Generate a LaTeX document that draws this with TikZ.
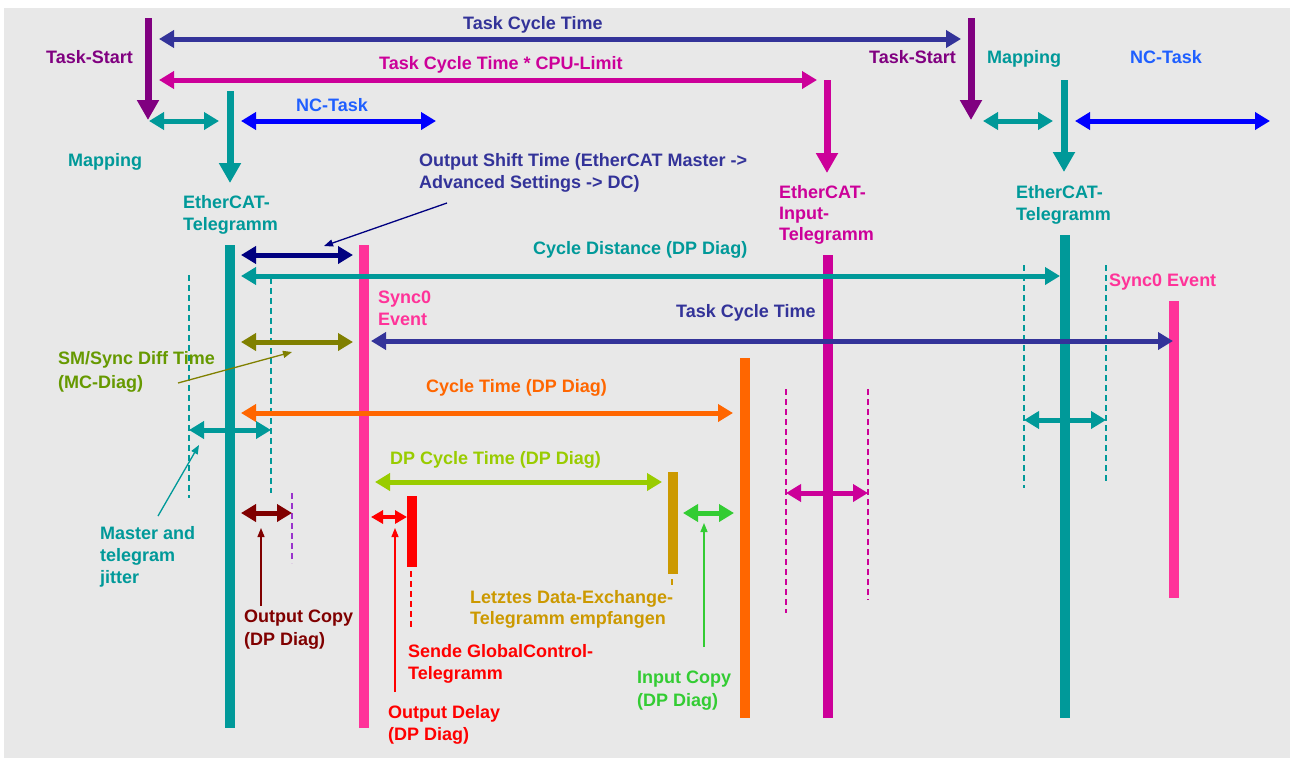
\documentclass[tikz,border=0pt]{standalone}
\usepackage{fontspec}
\setmainfont{Liberation Sans}
\usetikzlibrary{arrows.meta}
\definecolor{bgc}{HTML}{E8E8E8}
\definecolor{cpurple}{HTML}{800080}
\definecolor{cdblue}{HTML}{333399}
\definecolor{cmag}{HTML}{CC0099}
\definecolor{cteal}{HTML}{009999}
\definecolor{cblue}{HTML}{0000FF}
\definecolor{cncl}{HTML}{1F5FFF}
\definecolor{cpink}{HTML}{FF3399}
\definecolor{cnavy}{HTML}{000080}
\definecolor{colive}{HTML}{808000}
\definecolor{colivel}{HTML}{669900}
\definecolor{corange}{HTML}{FF6600}
\definecolor{cygreen}{HTML}{99CC00}
\definecolor{cgold}{HTML}{CC9900}
\definecolor{cdred}{HTML}{800000}
\definecolor{cred}{HTML}{FF0000}
\definecolor{cgreen}{HTML}{33CC33}
\definecolor{cviolet}{HTML}{9933CC}
\tikzset{
  hv/.tip={Triangle[length=20pt,width=21pt]},
  hh/.tip={Triangle[length=15pt,width=17pt]},
  hs/.tip={Triangle[length=12pt,width=13pt]},
  ht/.tip={Triangle[length=9pt,width=7pt]},
  varr/.style={draw=#1, line width=7pt, -hv},
  harr/.style={draw=#1, line width=5pt, hh-hh},
  sarr/.style={draw=#1, line width=4pt, hs-hs},
  tarr/.style={draw=#1, line width=1.3pt, -ht},
  dsh/.style={draw=#1, line width=1.5pt, dash pattern=on 6pt off 4pt},
  bar/.style={fill=#1, draw=none, minimum width=10pt, inner sep=0pt, anchor=north},
  lbl/.style={text=#1, inner sep=0pt, anchor=north west, align=left},
}
\begin{document}
\begin{tikzpicture}[x=1pt,y=-1pt,font=\fontsize{18}{22}\selectfont\bfseries]
\useasboundingbox (0,0) rectangle (1290,758);
\fill[white] (0,0) rectangle (1290,758);
\fill[bgc] (4,8) rectangle (1290,758);

% ---------- bars ----------
\node[bar=cteal, minimum height=483pt] (tb1) at (230,245) {};
\node[bar=cpink, minimum height=483pt] (pb1) at (364,245) {};
\node[bar=cmag, minimum height=463pt] (mb) at (828,255) {};
\node[bar=corange, minimum height=360pt] (ob) at (745,358) {};
\node[bar=cteal, minimum height=483pt] (tb2) at (1065,235) {};
\node[bar=cpink, minimum height=297pt] (pb2) at (1174,301) {};
\node[bar=cred, minimum height=71pt] (rb) at (412,496) {};
\node[bar=cgold, minimum height=102pt] (gb) at (673,472) {};

% ---------- coordinates ----------
\coordinate (ts1a) at (148,18);  \coordinate (ts1b) at (148,120);
\coordinate (ts2a) at (971,18);  \coordinate (ts2b) at (971,120);
\coordinate (et1a) at (230,91);  \coordinate (et1b) at (230,183);
\coordinate (et2a) at (1064,80); \coordinate (et2b) at (1064,172);
\coordinate (eia) at (827,80);   \coordinate (eib) at (827,173);
\coordinate (tcL) at (159,39);   \coordinate (tcR) at (961,39);
\coordinate (cpL) at (159,80);   \coordinate (cpR) at (817,80);
\coordinate (mp1L) at (149,121); \coordinate (mp1R) at (219,121);
\coordinate (nc1L) at (241,121); \coordinate (nc1R) at (436,121);
\coordinate (mp2L) at (983,121); \coordinate (mp2R) at (1053,121);
\coordinate (nc2L) at (1075,121);\coordinate (nc2R) at (1270,121);
\coordinate (osL) at (241,255);  \coordinate (osR) at (353,255);
\coordinate (cdL) at (241,276);  \coordinate (cdR) at (1060,276);
\coordinate (smL) at (241,342);  \coordinate (smR) at (353,342);
\coordinate (tc2L) at (371,341); \coordinate (tc2R) at (1173,341);
\coordinate (ctL) at (241,413);  \coordinate (ctR) at (733,413);
\coordinate (dpL) at (375,482);  \coordinate (dpR) at (662,482);
\coordinate (jiL) at (189,430);  \coordinate (jiR) at (271,430);
\coordinate (j2L) at (1024,420); \coordinate (j2R) at (1106,420);
\coordinate (miL) at (786,493);  \coordinate (miR) at (868,493);
\coordinate (ocL) at (241,513);  \coordinate (ocR) at (292,513);
\coordinate (odL) at (371,517);  \coordinate (odR) at (407,517);
\coordinate (icL) at (683,513);  \coordinate (icR) at (734,513);

% ---------- dashed guides ----------
\draw[dsh=cteal] (189,275) -- (189,498);
\draw[dsh=cteal] (271,278) -- (271,493);
\draw[dsh=cteal] (1024,265) -- (1024,488);
\draw[dsh=cteal] (1106,265) -- (1106,482);
\draw[dsh=cviolet] (292,493) -- (292,563);
\draw[dsh=cred] (411,571) -- (411,628);
\draw[dsh=cgold] (672,579) -- (672,589);
\draw[dsh=cmag] (786,389) -- (786,613);
\draw[dsh=cmag] (868,389) -- (868,600);

% ---------- top arrows ----------
\draw[varr=cpurple] (ts1a) -- (ts1b);
\draw[varr=cpurple] (ts2a) -- (ts2b);
\draw[varr=cteal] (et1a) -- (et1b);
\draw[varr=cteal] (et2a) -- (et2b);
\draw[varr=cmag] (eia) -- (eib);
\draw[harr=cdblue] (tcL) -- (tcR);
\draw[harr=cmag] (cpL) -- (cpR);
\draw[harr=cteal] (mp1L) -- (mp1R);
\draw[harr=cblue] (nc1L) -- (nc1R);
\draw[harr=cteal] (mp2L) -- (mp2R);
\draw[harr=cblue] (nc2L) -- (nc2R);

% ---------- timing arrows ----------
\draw[harr=cnavy] (osL) -- (osR);
\draw[harr=cteal] (cdL) -- (cdR);
\draw[harr=colive] (smL) -- (smR);
\draw[harr=cdblue] (tc2L) -- (tc2R);
\draw[harr=corange] (ctL) -- (ctR);
\draw[harr=cygreen] (dpL) -- (dpR);
\draw[harr=cteal] (jiL) -- (jiR);
\draw[harr=cteal] (j2L) -- (j2R);
\draw[harr=cmag] (miL) -- (miR);
\draw[harr=cdred] (ocL) -- (ocR);
\draw[sarr=cred] (odL) -- (odR);
\draw[harr=cgreen] (icL) -- (icR);

% ---------- labels ----------
\node[lbl=cdblue] (l1) at (463,16) {Task Cycle Time};
\node[lbl=cmag] (l2) at (379,56) {Task Cycle Time * CPU-Limit};
\node[lbl=cpurple] (l3) at (46,50) {Task-Start};
\node[lbl=cpurple] (l4) at (869,50) {Task-Start};
\node[lbl=cncl] (l5) at (296,98) {NC-Task};
\node[lbl=cteal] (l6) at (68,153) {Mapping};
\node[lbl=cteal] (l7) at (987,50) {Mapping};
\node[lbl=cncl] (l8) at (1130,50) {NC-Task};
\node[lbl=cteal] (l9) at (183,195) {EtherCAT-\\Telegramm};
\node[lbl=cteal] (l10) at (1016,185) {EtherCAT-\\Telegramm};
\node[lbl=cdblue] (l11) at (419,153) {Output Shift Time (EtherCAT Master ->\\Advanced Settings -> DC)};
\node[lbl=cmag, font=\fontsize{18}{21}\selectfont\bfseries] (l12) at (779,185) {EtherCAT-\\Input-\\Telegramm};
\node[lbl=cteal] (l13) at (533,241) {Cycle Distance (DP Diag)};
\node[lbl=cpink] (l14) at (378,291) {Sync0\\Event};
\node[lbl=cdblue] (l15) at (676,304) {Task Cycle Time};
\node[lbl=cpink] (l16) at (1109,274) {Sync0 Event};
\node[lbl=colivel, font=\fontsize{18}{24}\selectfont\bfseries] (l17) at (58,351) {SM/Sync Diff Time\\(MC-Diag)};
\node[lbl=corange] (l18) at (426,379) {Cycle Time (DP Diag)};
\node[lbl=cygreen] (l19) at (390,451) {DP Cycle Time (DP Diag)};
\node[lbl=cteal] (l20) at (100,526) {Master and\\telegram\\jitter};
\node[lbl=cdred, font=\fontsize{18}{23}\selectfont\bfseries] (l21) at (244,610) {Output Copy\\(DP Diag)};
\node[lbl=cred] (l22) at (408,644) {Sende GlobalControl-\\Telegramm};
\node[lbl=cred] (l23) at (388,705) {Output Delay\\(DP Diag)};
\node[lbl=cgold, font=\fontsize{18}{21}\selectfont\bfseries] (l24) at (470,590) {Letztes Data-Exchange-\\Telegramm empfangen};
\node[lbl=cgreen, font=\fontsize{18}{23}\selectfont\bfseries] (l25) at (637,671) {Input Copy\\(DP Diag)};

% ---------- pointer arrows ----------
\coordinate (p1) at (447,203);  \coordinate (p1e) at (324,246);
\coordinate (p2) at (178,383);  \coordinate (p2e) at (292,352);
\coordinate (p3) at (158,516);  \coordinate (p3e) at (199,445);
\coordinate (p4) at (261,606);  \coordinate (p4e) at (261,528);
\coordinate (p5) at (395,692);  \coordinate (p5e) at (395,528);
\coordinate (p6) at (704,647);  \coordinate (p6e) at (704,523);
\draw[tarr=cnavy] (p1) -- (p1e);
\draw[tarr=colive] (p2) -- (p2e);
\draw[tarr=cteal] (p3) -- (p3e);
\draw[tarr=cdred] (p4) -- (p4e);
\draw[tarr=cred] (p5) -- (p5e);
\draw[tarr=cgreen] (p6) -- (p6e);
\end{tikzpicture}
\end{document}
